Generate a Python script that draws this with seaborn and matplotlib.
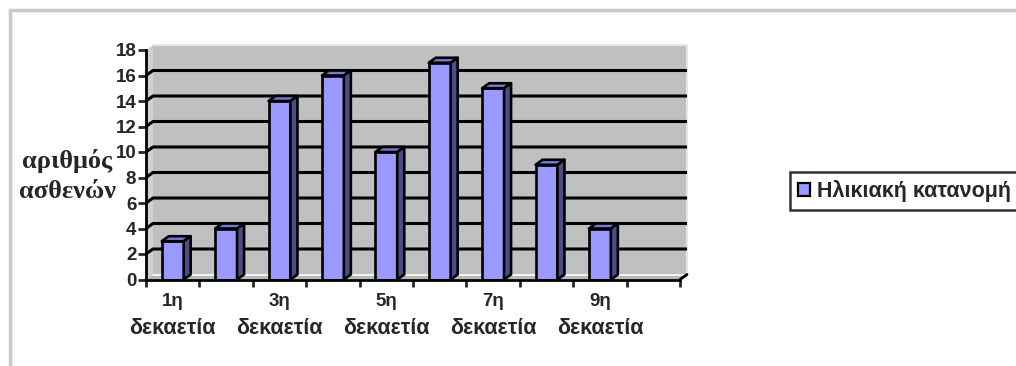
import numpy as np
import pandas as pd
import matplotlib
matplotlib.use("Agg")
import matplotlib.pyplot as plt
from matplotlib.patches import Polygon, Patch
from matplotlib.lines import Line2D
import seaborn as sns

categories = ["1η δεκαετία", "2η δεκαετία", "3η δεκαετία", "4η δεκαετία", "5η δεκαετία",
              "6η δεκαετία", "7η δεκαετία", "8η δεκαετία", "9η δεκαετία", "10η δεκαετία"]
values = [3, 4, 14, 16, 10, 17, 15, 9, 4]
shown_top = ["1η", "3η", "5η", "7η", "9η"]
shown_bottom = ["δεκαετία", "δεκαετία", "δεκαετία", "δεκαετία", "δεκαετία"]
shown_pos = [0, 2, 4, 6, 8]
y_ticks = list(range(0, 19, 2))
series_name = "Ηλικιακή κατανομή"
y_title = "αριθμός\nασθενών"

sns.set_style("white")
plt.rcParams['font.family'] = ['Liberation Sans', 'DejaVu Sans']

W, H = 1016, 366
fig = plt.figure(figsize=(W / 100, H / 100), dpi=100)
x0p, x1p, y0p, y1p = 146, 680, 279.5, 50
ax = fig.add_axes([x0p / W, 1 - y0p / H, (x1p - x0p) / W, (y0p - y1p) / H])
ax.set_facecolor("none")

df = pd.DataFrame({"cat": categories[:len(values)], "val": values})
sns.barplot(data=df, x="cat", y="val", order=categories, color="#9999FF",
            saturation=1, edgecolor="black", linewidth=1.9, width=0.41, ax=ax, zorder=3)

ncat = len(categories)
ax.set_xlim(-0.5, ncat - 0.5)
ax.set_ylim(0, 18)

dx = 7 / ((x1p - x0p) / ncat)
dy = 5 / ((y0p - y1p) / 18)
L, R = -0.5, ncat - 0.5
wall_c = "#C0C0C0"

# back wall, left wall and floor
ax.add_patch(Polygon([(L + dx, dy), (R + dx, dy), (R + dx, 18 + dy), (L + dx, 18 + dy)],
                     closed=True, fc=wall_c, ec="none", zorder=0, clip_on=False))
ax.add_patch(Polygon([(L, 0), (L + dx, dy), (L + dx, 18 + dy), (L, 18)],
                     closed=True, fc="#D0D0D0", ec="none", zorder=0, clip_on=False))
ax.add_patch(Polygon([(L, 0), (R, 0), (R + dx, dy), (L + dx, dy)],
                     closed=True, fc="#B8B8B8", ec="none", zorder=1, clip_on=False))
ax.plot([L + dx, R + dx], [dy, dy], color="white", lw=1.2, zorder=1, clip_on=False)
ax.plot([L + dx, R + dx, R + dx], [18 + dy, 18 + dy, dy], color="#E6E6E6", lw=1.5,
        zorder=1, clip_on=False)
for t in y_ticks[1:-1]:
    ax.plot([L, L + dx, R + dx], [t, t + dy, t + dy], color="black", lw=2.2,
            zorder=1, clip_on=False, solid_capstyle="butt")
ax.plot([R, R + dx], [0, dy], color="black", lw=2, zorder=2, clip_on=False)

# 3D faces for bars
for p in list(ax.patches):
    if not hasattr(p, "get_height"):
        continue
    h = p.get_height()
    if not np.isfinite(h) or h <= 0:
        continue
    bx, bw = p.get_x(), p.get_width()
    ax.add_patch(Polygon([(bx, h), (bx + dx, h + dy), (bx + bw + dx, h + dy), (bx + bw, h)],
                         closed=True, fc="#7A7AD6", ec="black", lw=1.9, zorder=4,
                         clip_on=False, joinstyle="round"))
    ax.add_patch(Polygon([(bx + bw, 0), (bx + bw + dx, dy), (bx + bw + dx, h + dy), (bx + bw, h)],
                         closed=True, fc="#4C4C88", ec="black", lw=1.9, zorder=4,
                         clip_on=False, joinstyle="round"))

# axes styling
for s in ["top", "right"]:
    ax.spines[s].set_visible(False)
for s in ["left", "bottom"]:
    ax.spines[s].set_linewidth(2)
    ax.spines[s].set_color("black")
    ax.spines[s].set_zorder(5)

ax.set_yticks(y_ticks)
ax.set_yticklabels([str(t) for t in y_ticks], fontsize=13.5, fontweight="bold")
ax.tick_params(axis="y", direction="out", length=6, width=2, pad=1, left=True)
ax.set_xticks(np.arange(L, R + 0.01, 1))
ax.set_xticklabels([])
ax.tick_params(axis="x", which="major", direction="out", length=5, width=2, bottom=True)
ax.set_xticks(shown_pos, minor=True)
ax.set_xticklabels(shown_top, minor=True, fontsize=13.5, fontweight="bold")
ax.tick_params(axis="x", which="minor", length=0, pad=9.5)
for pos, txt in zip(shown_pos, shown_bottom):
    ax.annotate(txt, xy=(pos, 0), xycoords=("data", "axes fraction"),
                xytext=(0, -49), textcoords="offset pixels", ha="center", va="center",
                fontsize=15.5, fontweight="bold", annotation_clip=False)
ax.set_xlabel("")
ax.set_ylabel("")

fig.text(67 / W, 1 - 176 / H, y_title, ha="center", va="center", fontsize=19,
         fontweight="bold", family=["Liberation Serif", "DejaVu Serif"], linespacing=1.4)

handle = Patch(fc="#9999FF", ec="black", lw=1.6)
leg = fig.legend([handle], [series_name], loc="center left",
                 bbox_to_anchor=(790 / W, 1 - 191 / H), frameon=True, fancybox=False,
                 prop={"weight": "bold", "size": 15.5}, handlelength=0.6, handleheight=0.6,
                 handletextpad=0.3, borderpad=0.35, borderaxespad=0)
leg.get_frame().set_edgecolor("black")
leg.get_frame().set_linewidth(1.8)

# outer chart frame
fig.add_artist(Line2D([10 / W, 10 / W], [0, 1 - 10 / H], color="#C8C8C8", lw=2.5))
fig.add_artist(Line2D([10 / W, 1], [1 - 10 / H, 1 - 10 / H], color="#C8C8C8", lw=2.5))

fig.savefig("out.png", dpi=100)
